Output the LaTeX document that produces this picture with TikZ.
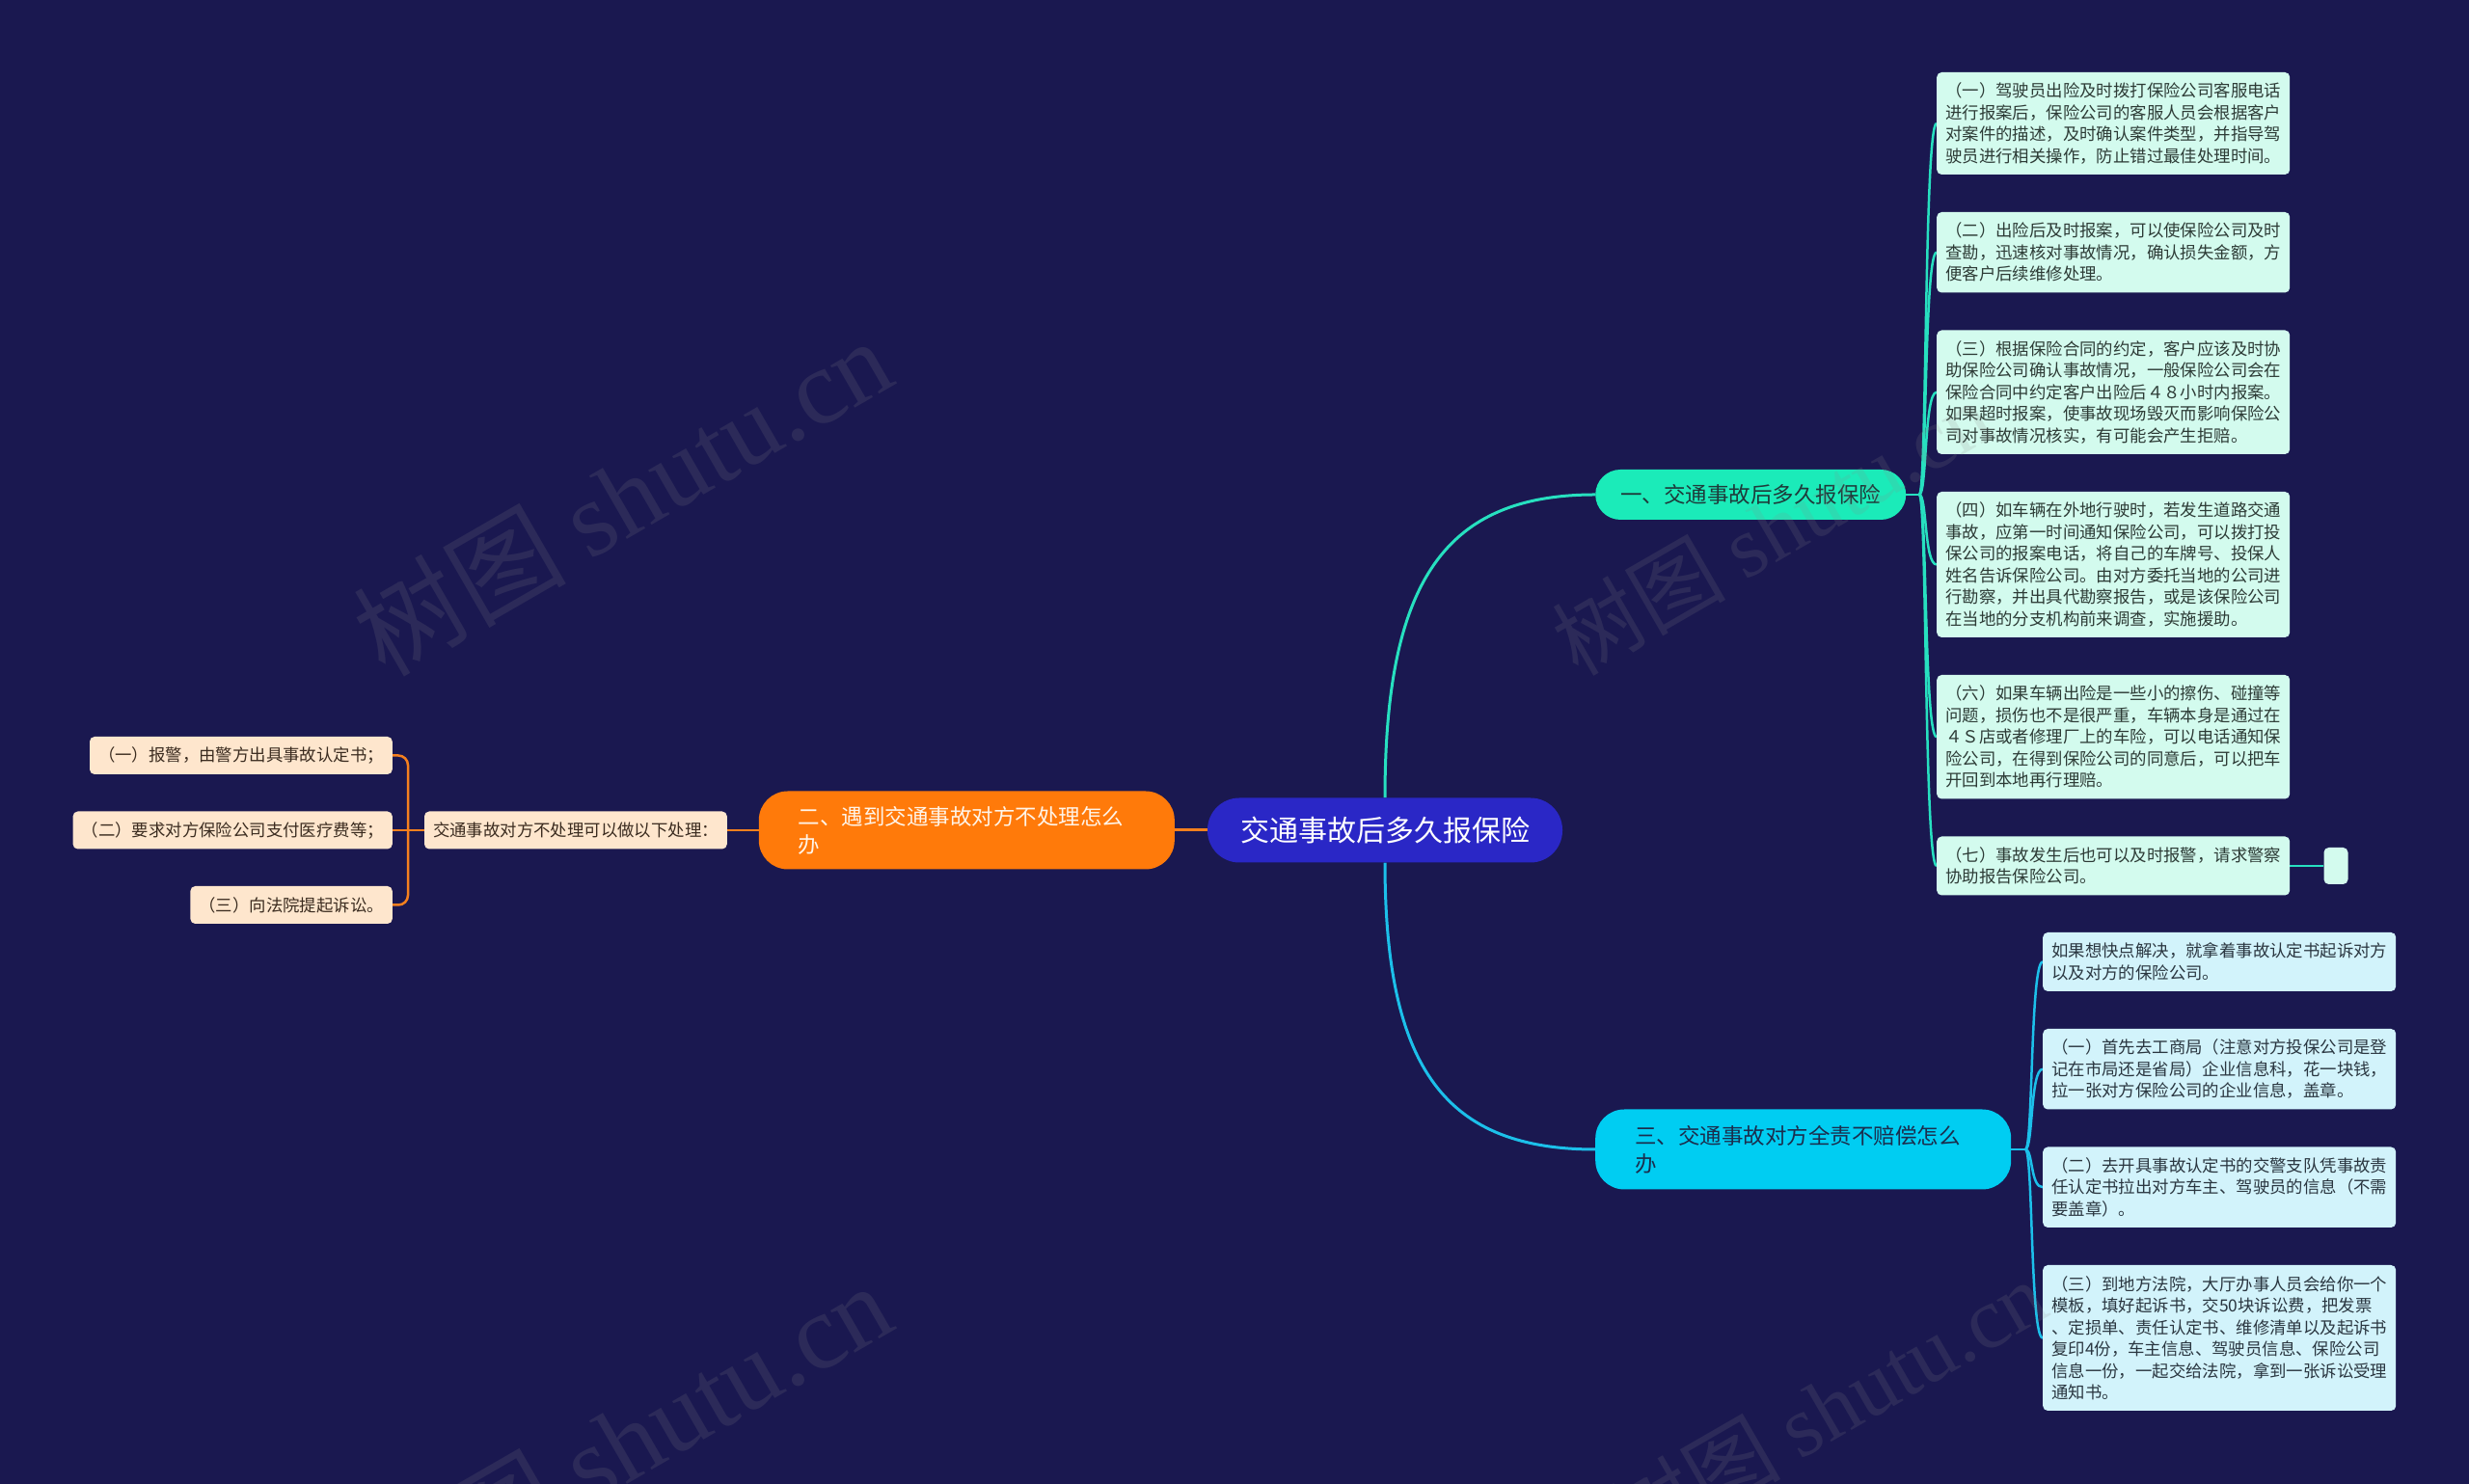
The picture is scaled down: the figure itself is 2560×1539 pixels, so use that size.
\documentclass[tikz,border=0pt]{standalone}
\usepackage{fontspec}
\setmainfont{Noto Sans CJK SC}
\newfontfamily\wmlatin{Liberation Serif}
\usetikzlibrary{backgrounds}
\definecolor{bgc}{HTML}{1A1850}
\definecolor{centc}{HTML}{2A27C6}
\definecolor{b1c}{HTML}{1BEBB9}
\definecolor{b1t}{HTML}{1E3A3A}
\definecolor{b2c}{HTML}{FF7A0A}
\definecolor{b2t}{HTML}{FFF4E8}
\definecolor{b3c}{HTML}{00CDF2}
\definecolor{b3t}{HTML}{1B2D4D}
\definecolor{line1}{HTML}{27E0C0}
\definecolor{line3}{HTML}{1CC0EA}
\definecolor{lineo}{HTML}{F5801E}
\definecolor{mintc}{HTML}{D3FBEE}
\definecolor{cyanc}{HTML}{D2F3FB}
\definecolor{peachc}{HTML}{FEE6CD}
\definecolor{leaftxt}{HTML}{2D3B36}
\definecolor{leaftxtc}{HTML}{2A3640}
\definecolor{peachtxt}{HTML}{3B2C20}
\definecolor{wmc}{HTML}{8A8A8A}
\tikzset{
  leafbase/.style={rounded corners=5pt, align=left, text width=348pt, inner xsep=9pt, inner ysep=4pt, anchor=west, font=\fontsize{17.4pt}{22.5pt}\selectfont},
  mintleaf/.style={leafbase, fill=mintc, text=leaftxt},
  cyanleaf/.style={leafbase, fill=cyanc, text=leaftxtc},
  peachleaf/.style={rounded corners=5pt, fill=peachc, text=peachtxt, inner xsep=9pt, inner ysep=4pt, minimum height=39pt, anchor=east, font=\fontsize{17.4pt}{22.5pt}\selectfont},
  branchbox/.style={font=\fontsize{22.5pt}{29pt}\selectfont, align=left},
  conA/.style={draw=line1, line width=2.5pt},
  conC/.style={draw=line3, line width=2.5pt},
  conO/.style={draw=lineo, line width=2.5pt},
  wmark/.style={rotate=30, text=wmc, opacity=0.16, font=\fontsize{90pt}{90pt}\selectfont},
  wmarkbig/.style={wmark, font=\fontsize{110pt}{110pt}\selectfont}
}
\begin{document}
\begin{tikzpicture}[x=1pt,y=1pt]
\useasboundingbox (0,0) rectangle (2560,1539);

% central
\node[fill=centc, text=white, rounded corners=33pt, minimum width=368pt, minimum height=67pt, font=\fontsize{30pt}{36pt}\selectfont] (c) at (1436,678) {交通事故后多久报保险};

% branches
\node[branchbox, fill=b1c, text=b1t, rounded corners=26pt, minimum height=52pt, inner xsep=26pt, anchor=west] (b1) at (1654,1026) {一、交通事故后多久报保险};
\node[branchbox, fill=b2c, text=b2t, rounded corners=30pt, minimum height=81pt, inner xsep=41pt, text width=349pt, anchor=east] (b2) at (1218,678) {二、遇到交通事故对方不处理怎么\\办};
\node[branchbox, fill=b3c, text=b3t, rounded corners=30pt, minimum height=83pt, inner xsep=41pt, text width=349pt, anchor=west] (b3) at (1654,347) {三、交通事故对方全责不赔偿怎么\\办};

% branch 1 leaves
\node[mintleaf, minimum height=106pt] (L1) at (2008,1411) {（一）驾驶员出险及时拨打保险公司客服电话\\进行报案后，保险公司的客服人员会根据客户\\对案件的描述，及时确认案件类型，并指导驾\\驶员进行相关操作，防止错过最佳处理时间。};
\node[mintleaf, minimum height=83.5pt] (L2) at (2008,1277.25) {（二）出险后及时报案，可以使保险公司及时\\查勘，迅速核对事故情况，确认损失金额，方\\便客户后续维修处理。};
\node[mintleaf, minimum height=128.5pt] (L3) at (2008,1132.25) {（三）根据保险合同的约定，客户应该及时协\\助保险公司确认事故情况，一般保险公司会在\\保险合同中约定客户出险后４８小时内报案。\\如果超时报案，使事故现场毁灭而影响保险公\\司对事故情况核实，有可能会产生拒赔。};
\node[mintleaf, minimum height=151pt] (L4) at (2008,953.5) {（四）如车辆在外地行驶时，若发生道路交通\\事故，应第一时间通知保险公司，可以拨打投\\保公司的报案电话，将自己的车牌号、投保人\\姓名告诉保险公司。由对方委托当地的公司进\\行勘察，并出具代勘察报告，或是该保险公司\\在当地的分支机构前来调查，实施援助。};
\node[mintleaf, minimum height=128.5pt] (L5) at (2008,774.75) {（六）如果车辆出险是一些小的擦伤、碰撞等\\问题，损伤也不是很严重，车辆本身是通过在\\４Ｓ店或者修理厂上的车险，可以电话通知保\\险公司，在得到保险公司的同意后，可以把车\\开回到本地再行理赔。};
\node[mintleaf, minimum height=61pt] (L6) at (2008,641) {（七）事故发生后也可以及时报警，请求警察\\协助报告保险公司。};
\node[fill=mintc, rounded corners=5pt, minimum width=25pt, minimum height=38pt, inner sep=0pt] (s1) at (2422,641) {};

% branch 3 leaves
\node[cyanleaf, minimum height=61pt] (M1) at (2118,541.5) {如果想快点解决，就拿着事故认定书起诉对方\\以及对方的保险公司。};
\node[cyanleaf, minimum height=83.5pt] (M2) at (2118,430.25) {（一）首先去工商局（注意对方投保公司是登\\记在市局还是省局）企业信息科，花一块钱，\\拉一张对方保险公司的企业信息，盖章。};
\node[cyanleaf, minimum height=83.5pt] (M3) at (2118,307.75) {（二）去开具事故认定书的交警支队凭事故责\\任认定书拉出对方车主、驾驶员的信息（不需\\要盖章）。};
\node[cyanleaf, minimum height=151pt] (M4) at (2118,151.5) {（三）到地方法院，大厅办事人员会给你一个\\模板，填好起诉书，交50块诉讼费，把发票\\、定损单、责任认定书、维修清单以及起诉书\\复印4份，车主信息、驾驶员信息、保险公司\\信息一份，一起交给法院，拿到一张诉讼受理\\通知书。};

% branch 2 sub and leaves
\node[peachleaf] (sub) at (754,678) {交通事故对方不处理可以做以下处理：};
\node[peachleaf] (O1) at (407,755.5) {（一）报警，由警方出具事故认定书；};
\node[peachleaf] (O2) at (407,678) {（二）要求对方保险公司支付医疗费等；};
\node[peachleaf] (O3) at (407,600.5) {（三）向法院提起诉讼。};

\begin{pgfonlayer}{background}
\fill[bgc] (0,0) rectangle (2560,1539);
% center to branches
\draw[conA, line width=3pt] (c.north) .. controls (1436,939) and (1500,1026) .. (b1.west);
\draw[conC, line width=3pt] (c.south) .. controls (1436,429) and (1500,347) .. (b3.west);
\draw[conO, line width=3pt] (c.west) -- (b2.east);
% branch 1 to leaves
\draw[conA] (b1.east) -- (1990,1026) coordinate (j1);
\draw[conA] (j1) .. controls (1998,1026) and (1995,1411) .. (L1.west);
\draw[conA] (j1) .. controls (1998,1026) and (1995,1277.25) .. (L2.west);
\draw[conA] (j1) .. controls (1998,1026) and (1995,1132.25) .. (L3.west);
\draw[conA] (j1) .. controls (1998,1026) and (1995,953.5) .. (L4.west);
\draw[conA] (j1) .. controls (1998,1026) and (1995,774.75) .. (L5.west);
\draw[conA] (j1) .. controls (1998,1026) and (1995,641) .. (L6.west);
\draw[conA] (L6.east) -- (s1.west);
% branch 3 to leaves
\draw[conC] (b3.east) -- (2100,347) coordinate (j3);
\draw[conC] (j3) .. controls (2108,347) and (2105,541.5) .. (M1.west);
\draw[conC] (j3) .. controls (2108,347) and (2105,430.25) .. (M2.west);
\draw[conC] (j3) .. controls (2108,347) and (2105,307.75) .. (M3.west);
\draw[conC] (j3) .. controls (2108,347) and (2105,151.5) .. (M4.west);
% branch 2
\draw[conO] (b2.west) -- (sub.east);
\draw[conO] (sub.west) -- (423,678) coordinate (oj);
\draw[conO, rounded corners=10pt] (oj) |- (O1.east);
\draw[conO, rounded corners=10pt] (oj) |- (O3.east);
\draw[conO] (oj) -- (O2.east);
\end{pgfonlayer}

% watermarks
\node[wmarkbig] (w1) at (645,1025) {树图 {\wmlatin shutu.cn}};
\node[wmark] (w2) at (1837,992) {树图 {\wmlatin shutu.cn}};
\node[wmarkbig] (w3) at (645,45) {树图 {\wmlatin shutu.cn}};
\node[wmark] (w4) at (1894,80) {树图 {\wmlatin shutu.cn}};
\end{tikzpicture}
\end{document}
